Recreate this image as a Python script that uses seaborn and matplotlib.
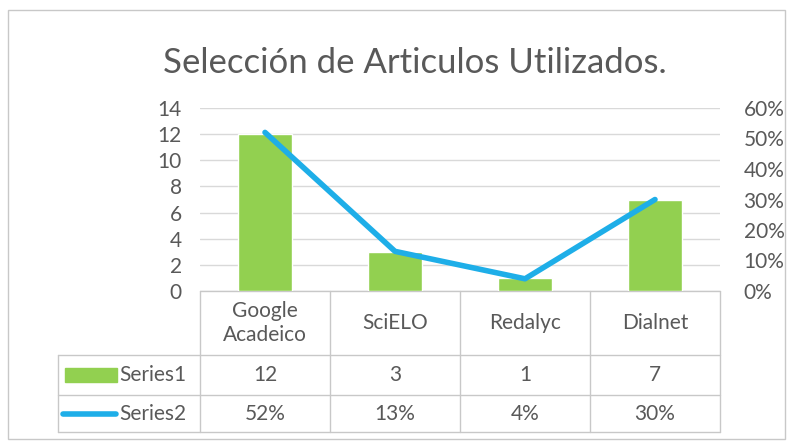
import numpy as np
import pandas as pd
import matplotlib.pyplot as plt
import seaborn as sns
from matplotlib.patches import Rectangle
from matplotlib.lines import Line2D

# chart data
categories = ['Google\nAcadeico', 'SciELO', 'Redalyc', 'Dialnet']
series1 = [12, 3, 1, 7]
series2 = [0.52, 0.13, 0.04, 0.30]
series_names = ['Series1', 'Series2']
left_ticks = [0, 2, 4, 6, 8, 10, 12, 14]
right_ticks = [0.0, 0.1, 0.2, 0.3, 0.4, 0.5, 0.6]
title = 'Selección de Articulos Utilizados.'

GREEN = '#92D050'
BLUE = '#1EAEE8'
TXT = '#595959'
GRID = '#D9D9D9'
BORDER = '#C8C8C8'
FS = 15

sns.set_style('white')
plt.rcParams['font.family'] = ['Lato', 'DejaVu Sans']

W, H = 791, 442
def px(x0, y0, x1, y1):
    return [x0 / W, 1 - y1 / H, (x1 - x0) / W, (y1 - y0) / H]

df = pd.DataFrame({'cat': categories, 'pos': np.arange(len(categories)),
                   'count': series1, 'pct': series2})

fig = plt.figure(figsize=(W / 100, H / 100), dpi=100)
fig.patch.set_facecolor('white')

# full-figure overlay in pixel coords for border + data table
tax = fig.add_axes([0, 0, 1, 1])
tax.set_xlim(0, W)
tax.set_ylim(H, 0)
tax.axis('off')
tax.add_patch(Rectangle((8, 10), 777, 429, fill=False, edgecolor=BORDER, lw=1))

# main bar axes
ax = fig.add_axes(px(200, 108, 720, 291))
sns.barplot(data=df, x='cat', y='count', color=GREEN, saturation=1,
            width=0.41, ax=ax, zorder=2)
ax.set_xlim(-0.5, len(categories) - 0.5)
ax.set_ylim(0, 14)
ax.set_yticks(left_ticks)
ax.set_yticklabels([str(t) for t in left_ticks])
ax.yaxis.grid(True, color=GRID, lw=1)
ax.set_axisbelow(True)
ax.set_xticks([])
ax.set_xlabel('')
ax.set_ylabel('')
ax.tick_params(axis='y', length=0, pad=13, labelsize=FS, labelcolor=TXT)
for s in ax.spines.values():
    s.set_visible(False)
ax.patch.set_alpha(0)

# percentage line on secondary axis
ax2 = ax.twinx()
sns.lineplot(data=df, x='pos', y='pct', color=BLUE, lw=4, sort=False,
             ax=ax2, solid_capstyle='round')
ax2.set_ylim(0, 0.6)
ax2.set_yticks(right_ticks)
ax2.set_yticklabels([f'{int(round(t * 100))}%' for t in right_ticks])
ax2.tick_params(axis='y', length=0, pad=17, labelsize=FS, labelcolor=TXT)
ax2.set_xlim(-0.5, len(categories) - 0.5)
ax2.set_xlabel('')
ax2.set_ylabel('')
for s in ax2.spines.values():
    s.set_visible(False)

fig.text(415 / W, 1 - 63 / H, title, ha='center', va='center',
         fontsize=25, color=TXT)

# data table
x0, colw = 200, 130
rows = [291, 355, 395, 432]
leg_left = 58
ncol = len(categories)
x_end = x0 + colw * ncol
for i in range(ncol + 1):
    tax.add_line(Line2D([x0 + colw * i] * 2, [rows[0], rows[-1]], color=BORDER, lw=1))
tax.add_line(Line2D([x0, x_end], [rows[0]] * 2, color=BORDER, lw=1))
for r in rows[1:]:
    tax.add_line(Line2D([leg_left, x_end], [r, r], color=BORDER, lw=1))
tax.add_line(Line2D([leg_left] * 2, [rows[1], rows[-1]], color=BORDER, lw=1))

for i, c in enumerate(categories):
    cx = x0 + colw * (i + 0.5)
    tax.text(cx, (rows[0] + rows[1]) / 2, c, ha='center', va='center',
             fontsize=FS, color=TXT, linespacing=1.25)
    tax.text(cx, (rows[1] + rows[2]) / 2, str(series1[i]), ha='center',
             va='center', fontsize=FS, color=TXT)
    tax.text(cx, (rows[2] + rows[3]) / 2, f'{int(round(series2[i] * 100))}%',
             ha='center', va='center', fontsize=FS, color=TXT)

# legend keys in the table
y1 = (rows[1] + rows[2]) / 2
y2 = (rows[2] + rows[3]) / 2
tax.add_patch(Rectangle((65, y1 - 7), 52, 14, color=GREEN))
tax.add_line(Line2D([63, 116], [y2, y2], color=BLUE, lw=4, solid_capstyle='round'))
tax.text(119, y1, series_names[0], ha='left', va='center', fontsize=FS, color=TXT)
tax.text(119, y2, series_names[1], ha='left', va='center', fontsize=FS, color=TXT)

fig.savefig('out.png', dpi=100)
